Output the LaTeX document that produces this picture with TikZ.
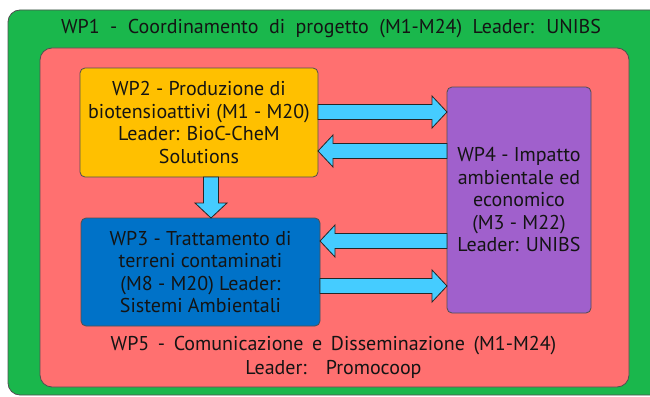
\documentclass[tikz,border=0pt]{standalone}
\usepackage{fontspec}
\setmainfont{PT Sans}
\usetikzlibrary{calc}
\definecolor{wpgreen}{RGB}{26,183,76}
\definecolor{wpred}{RGB}{255,112,112}
\definecolor{wpyellow}{RGB}{255,192,0}
\definecolor{wpblue}{RGB}{0,114,200}
\definecolor{wppurple}{RGB}{160,96,204}
\definecolor{wpcyan}{RGB}{69,204,255}
\definecolor{wpline}{RGB}{80,80,80}
\definecolor{wptxt}{RGB}{20,20,20}
\newcommand\wpwideA{\spaceskip=10.5pt\relax}
\newcommand\wpwideB{\spaceskip=8.6pt\relax}
\begin{document}
\begin{tikzpicture}[x=1pt,y=-1pt,
  wpbox/.style={draw=wpline, line width=0.8pt, rounded corners=5pt, inner sep=0pt, outer sep=0pt},
  wptext/.style={font=\fontsize{20}{22.5}\selectfont, align=center, text=wptxt},
  barrow/.style={fill=wpcyan, draw=black!85, line width=0.8pt,
    to path={($(\tikztostart)!7.5pt!90:(\tikztotarget)$)
      -- ($($(\tikztotarget)!15pt!(\tikztostart)$)!7.5pt!-90:(\tikztostart)$)
      -- ($($(\tikztotarget)!15pt!(\tikztostart)$)!16pt!-90:(\tikztostart)$)
      -- (\tikztotarget)
      -- ($($(\tikztotarget)!15pt!(\tikztostart)$)!16pt!90:(\tikztostart)$)
      -- ($($(\tikztotarget)!15pt!(\tikztostart)$)!7.5pt!90:(\tikztostart)$)
      -- ($(\tikztostart)!7.5pt!-90:(\tikztotarget)$) -- cycle}}]
\useasboundingbox (0,0) rectangle (650,396);
\fill[white] (0,0) rectangle (650,396);
% outer WP1
\node[wpbox, fill=wpgreen, rounded corners=12pt, minimum width=657pt, minimum height=385pt] (wp1) at (336.5,202.5) {};
\node[wptext] (wp1t) at (331,29) {\wpwideA WP1 - Coordinamento di progetto (M1-M24) Leader: UNIBS};
% WP5 container
\node[wpbox, fill=wpred, rounded corners=12pt, minimum width=589pt, minimum height=339pt] (wp5) at (334.5,217.5) {};
\node[wptext, font=\fontsize{20}{24}\selectfont] (wp5t) at (333.5,357) {\wpwideB WP5 - Comunicazione e Disseminazione (M1-M24)\\\wpwideB Leader:~ Promocoop};
% inner boxes
\node[wpbox, wptext, fill=wpyellow, minimum width=238pt, minimum height=109pt] (wp2) at (199,122.5)
  {WP2 - Produzione di\\biotensioattivi (M1 - M20)\\Leader: BioC-CheM\\Solutions};
\node[wpbox, wptext, fill=wpblue, minimum width=239pt, minimum height=108pt] (wp3) at (200.5,272)
  {WP3 - Trattamento di\\terreni contaminati\\(M8 - M20) Leader:\\Sistemi Ambientali};
\node[wpbox, wptext, fill=wppurple, minimum width=144pt, minimum height=226pt] (wp4) at (519,200)
  {WP4 - Impatto\\ambientale ed\\economico\\(M3 - M22)\\Leader: UNIBS};
% arrows
\coordinate (a1s) at (wp2.east |- 0,112);
\coordinate (a1e) at (wp4.west |- 0,112);
\coordinate (a2s) at (wp4.west |- 0,151);
\coordinate (a2e) at (wp2.east |- 0,151);
\coordinate (a3s) at (211,0 |- wp2.south);
\coordinate (a3e) at (211,0 |- wp3.north);
\coordinate (a4s) at (wp4.west |- 0,241);
\coordinate (a4e) at (wp3.east |- 0,241);
\coordinate (a5s) at (wp3.east |- 0,286);
\coordinate (a5e) at (wp4.west |- 0,286);
\draw[barrow] (a1s) to (a1e);
\draw[barrow] (a2s) to (a2e);
\draw[barrow] (a3s) to (a3e);
\draw[barrow] (a4s) to (a4e);
\draw[barrow] (a5s) to (a5e);
\end{tikzpicture}
\end{document}
